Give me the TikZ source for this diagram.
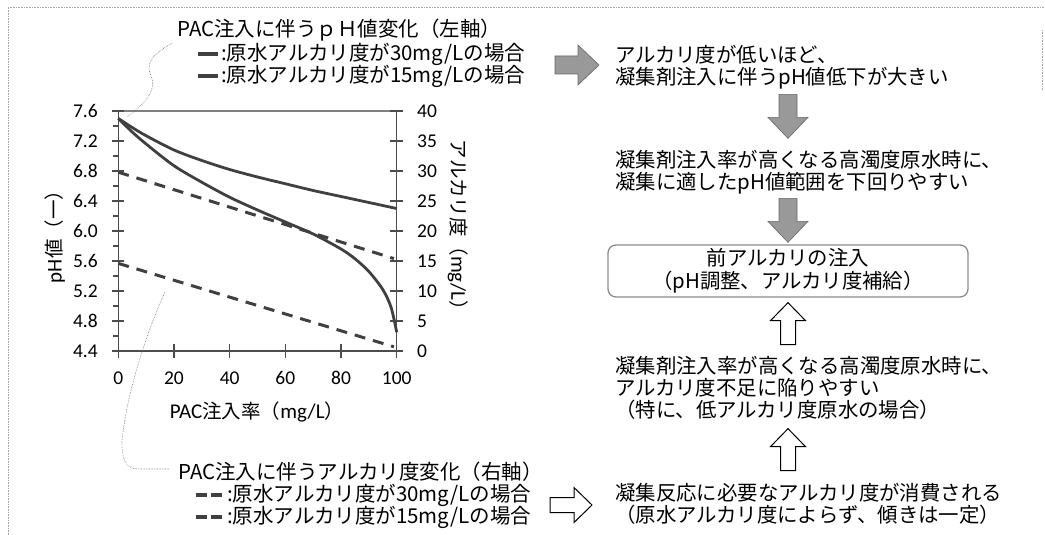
\documentclass[tikz,border=0pt]{standalone}
\usepackage{fontspec}
\newfontfamily\jpfont{Noto Sans CJK JP}
\newfontfamily\numfont{Carlito}
\usepackage{tikz}
\usetikzlibrary{calc}
\definecolor{curvegray}{gray}{0.25}
\definecolor{axisgray}{gray}{0.3}
\tikzset{
  blockarrow/.pic = {\path[pic actions] (-22,-9) -- (1,-9) -- (1,-20) -- (22,0)
    -- (1,20) -- (1,9) -- (-22,9) -- cycle;},
  hollowarrow/.pic = {\path[pic actions] (-21,-7.5) -- (3,-7.5) -- (3,-17.5) -- (21,0)
    -- (3,17.5) -- (3,7.5) -- (-21,7.5) -- cycle;}
}

\begin{document}
\begin{tikzpicture}[x=1pt, y=-1pt,
      frame/.style = { draw=black!35, densely dotted, line width=0.6pt },
      axis/.style = { draw=axisgray, line width=1.1pt },
      ticklabel/.style = { font=\numfont\fontsize{19.5}{19.5}\selectfont, inner sep=0pt },
      axislabel/.style = { font=\jpfont\fontsize{19.5}{19.5}\selectfont, inner sep=0pt },
      legtext/.style = { font=\jpfont\fontsize{20.5}{22}\selectfont, inner sep=0pt, anchor=west },
      flowtext/.style = { font=\jpfont\fontsize{20.4}{22}\selectfont, inner sep=0pt,
        anchor=west, align=left },
      flowbox/.style = { draw=black!45, line width=1.3pt, rounded corners=8pt,
        minimum width=360pt, minimum height=52pt, align=center,
        font=\jpfont\fontsize{20.4}{23}\selectfont },
      phsolid/.style = { draw=curvegray, line width=2.8pt },
      alkdash/.style = { draw=curvegray, line width=3pt, dash pattern=on 11pt off 8pt },
      leader/.style = { draw=black!55, densely dotted, line width=0.6pt },
      grayfill/.style = { draw=black!60, fill=black!40, line width=0.6pt },
      whitefill/.style = { draw=black, fill=white, line width=1pt }]
    \useasboundingbox (0,0) rectangle (1045,535);
    \draw[frame] (8,535) -- (8,7) -- (1045,7);
    \draw[frame] (1042,30) -- (1042,90);

    % axes and ticks
    \draw[axis, draw=black!50] (113,111) -- (396.7,111);
    \draw[axis] (118.3,111) -- (118.3,358);
    \draw[axis] (112,351) -- (403,351);
    \draw[axis] (396.7,111) -- (396.7,351);
    \foreach \p [count=\i from 0] in {4.4,4.8,5.2,5.6,6.0,6.4,6.8,7.2,7.6} {
      \draw[axis] (112,{351-30*\i}) -- (124,{351-30*\i});
      \node[ticklabel, anchor=east] (phlab\i) at (98,{351-30*\i}) {\p};
    }
    \foreach \i in {0,...,7}
      \draw[axis] (113,{336-30*\i}) -- (118.3,{336-30*\i});
    \foreach \a [count=\i from 0] in {0,5,...,40} {
      \draw[axis] (390,{351-30*\i}) -- (403,{351-30*\i});
      \node[ticklabel, anchor=west] (alklab\i) at (417,{351-30*\i}) {\a};
    }
    \foreach \v [count=\i from 0] in {0,20,...,100} {
      \draw[axis] ({118.3+55.68*\i},344) -- ({118.3+55.68*\i},358);
      \node[ticklabel] (xlab\i) at ({118.3+55.68*\i},378) {\v};
    }
    \node[axislabel] (xtitle) at (257,412) {{\numfont\fontsize{21}{21}\selectfont PAC}注入率（{\numfont\fontsize{21}{21}\selectfont mg/L}）};
    \node[axislabel, rotate=90] (phtitle) at (55,232) {{\numfont\fontsize{21}{21}\selectfont pH}値（一）};
    \node[axislabel, rotate=-90] (alktitle) at (458,230) {アルカリ度（{\numfont\fontsize{21}{21}\selectfont mg/L}）};

    % pH curves (left axis)
    \begin{scope}[shift={(118.3,681)}, x=2.784pt, y=75pt]
      \draw[phsolid] plot[smooth] coordinates {(0,7.5) (5,7.38) (10,7.27) (20,7.08)
        (30,6.94) (40,6.82) (50,6.72) (60,6.63) (70,6.54) (80,6.46) (90,6.38) (100,6.30)};
      \draw[phsolid] plot[smooth] coordinates {(0,7.5) (5,7.32) (10,7.16) (20,6.87)
        (30,6.65) (40,6.45) (50,6.28) (60,6.12) (70,5.96) (80,5.76) (85,5.63)
        (90,5.46) (95,5.22) (98,4.98) (100,4.65)};
    \end{scope}
    % alkalinity lines (right axis)
    \begin{scope}[shift={(118.3,351)}, x=2.784pt, y=6pt]
      \draw[alkdash] (0,29.8) -- (99,15.4);
      \draw[alkdash] (0,14.6) -- (99,0.7);
    \end{scope}

    % legends
    \node[legtext] (legph) at (177,30) {PAC注入に伴うｐＨ値変化（左軸）};
    \node[legtext] (legph1) at (221,54) {:原水アルカリ度が30mg/Lの場合};
    \node[legtext] (legph2) at (221,76) {:原水アルカリ度が15mg/Lの場合};
    \draw[phsolid, line width=3.4pt] ($(legph1.west)+(-23,0)$) -- ++(20,0);
    \draw[phsolid, line width=3.4pt] ($(legph2.west)+(-23,0)$) -- ++(20,0);
    \node[legtext] (legalk) at (178,472) {PAC注入に伴うアルカリ度変化（右軸）};
    \node[legtext] (legalk1) at (227,495) {:原水アルカリ度が30mg/Lの場合};
    \node[legtext] (legalk2) at (227,517) {:原水アルカリ度が15mg/Lの場合};
    \draw[alkdash, line width=3.4pt, dash pattern=on 11pt off 4pt] ($(legalk1.west)+(-31,0)$) -- ++(26,0);
    \draw[alkdash, line width=3.4pt, dash pattern=on 11pt off 4pt] ($(legalk2.west)+(-31,0)$) -- ++(26,0);

    % leaders from legends to curves
    \coordinate (phlead) at (127,117);
    \coordinate (alklead) at (165,292);
    \draw[leader] ($(legph.south west)+(-5,2)$) .. controls (150,55) and (146,65) .. (151,76)
      .. controls (156,88) and (150,100) .. (phlead);
    \draw[leader] ($(legalk.west)+(-9,-3)$) -- (138,469) .. controls (124,468) and (122,458) .. (122,440)
      .. controls (128,385) and (150,325) .. (alklead);

    % flow on the right
    \node[flowtext] (txtlow) at (615,67) {アルカリ度が低いほど、\\凝集剤注入に伴うpH値低下が大きい};
    \node[flowtext] (txtrange) at (615,172) {凝集剤注入率が高くなる高濁度原水時に、\\凝集に適したpH値範囲を下回りやすい};
    \node[flowbox] (boxpre) at (788,271) {前アルカリの注入\\（pH調整、アルカリ度補給）};
    \node[flowtext] (txtshort) at (615,388) {凝集剤注入率が高くなる高濁度原水時に、\\アルカリ度不足に陥りやすい\\（特に、低アルカリ度原水の場合）};
    \node[flowtext] (txtuse) at (615,504) {凝集反応に必要なアルカリ度が消費される\\（原水アルカリ度によらず、傾きは一定）};
    % connect all nodes defined above
    \pic[grayfill] (arrlow) at ($(txtlow.west)+(-38,-2)$) {blockarrow};
    \pic[grayfill, rotate=-90] (arrd1) at ($(boxpre.north)+(0,-128)$) {blockarrow};
    \pic[grayfill, rotate=-90] (arrd2) at ($(boxpre.north)+(0,-24)$) {blockarrow};
    \pic[whitefill, rotate=90] (arru1) at ($(boxpre.south)+(0,26)$) {hollowarrow};
    \pic[whitefill, rotate=90] (arru2) at ($(boxpre.south)+(0,152)$) {hollowarrow};
    \pic[whitefill] (arrr) at ($(txtuse.west)+(-44,1)$) {hollowarrow};
  \end{tikzpicture}
\end{document}
